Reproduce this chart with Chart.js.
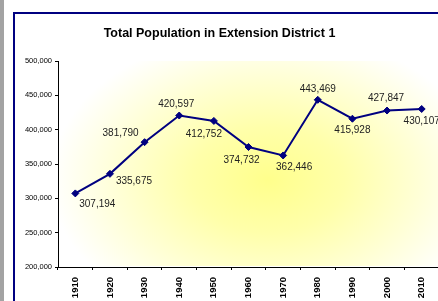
<!DOCTYPE html>
<html>
<head>
<meta charset="utf-8">
<script src="https://cdn.jsdelivr.net/npm/chart.js@4/dist/chart.umd.min.js"></script>
<style>
  html, body { margin: 0; padding: 0; width: 438px; height: 301px; overflow: hidden; background: #fff; }
  .strip { position: absolute; left: 0; top: 0; width: 4px; height: 301px; background: #a3a3a3; }
  .frame { position: absolute; left: 13px; top: 12px; width: 500px; height: 400px;
           border-left: 2px solid #000080; border-top: 2px solid #000080; background: #fff; }
  #wrap { position: absolute; left: 0; top: 0; width: 462px; height: 301px; }
</style>
</head>
<body>
<div class="strip"></div>
<div class="frame"></div>
<div id="wrap"><canvas id="chart" width="462" height="301"></canvas></div>
<script>
const years = ['1910', '1920', '1930', '1940', '1950', '1960', '1970', '1980', '1990', '2000', '2010'];
const population = [307194, 335675, 381790, 420597, 412752, 374732, 362446, 443469, 415928, 427847, 430107];
const yTicks = [200000, 250000, 300000, 350000, 400000, 450000, 500000];
const chartTitle = 'Total Population in Extension District 1';

// where each value label sits relative to its point (dx, dy in px)
const labelOffsets = [[22, 11], [24, 7], [-24, -9], [-3, -11], [-10, 13], [-7, 13],
                      [11, 12], [0, -11], [0, 12], [-1, -12], [0, 12]];

const FONT = 'Arial, "Liberation Sans", sans-serif';
const NAVY = '#000080';

const fmt = (v) => v.toLocaleString('en-US');

// soft yellow glow behind the plot (stretched sideways)
const plotGlow = {
    id: 'plotGlow',
    beforeDatasetsDraw(chart) {
        const ctx = chart.ctx;
        const a = chart.chartArea;
        ctx.save();
        ctx.beginPath();
        ctx.rect(a.left + 1, a.top, a.right - a.left, a.bottom - a.top - 1);
        ctx.clip();
        const cx = 268, cy = 180, sx = 1.45;
        ctx.translate(cx, cy);
        ctx.scale(sx, 1);
        let g = ctx.createRadialGradient(0, 0, 0, 0, 0, 150);
        g.addColorStop(0, 'rgba(255,255,140,1)');
        g.addColorStop(0.35, 'rgba(255,255,170,1)');
        g.addColorStop(0.7, 'rgba(255,255,215,1)');
        g.addColorStop(1, 'rgba(255,255,255,1)');
        ctx.fillStyle = g;
        ctx.fillRect(-400, -300, 800, 600);
        ctx.restore();
    }
};

// value labels next to the points
const valueLabels = {
    id: 'valueLabels',
    afterDatasetsDraw(chart) {
        const ctx = chart.ctx;
        const meta = chart.getDatasetMeta(0);
        ctx.save();
        ctx.font = '10px ' + FONT;
        ctx.fillStyle = '#222';
        ctx.textAlign = 'center';
        ctx.textBaseline = 'middle';
        meta.data.forEach((pt, i) => {
            const off = labelOffsets[i];
            ctx.fillText(fmt(population[i]), pt.x + off[0], pt.y + off[1]);
        });
        ctx.restore();
    }
};

const config = {
    type: 'line',
    data: {
        labels: years,
        datasets: [{
            data: population,
            borderColor: NAVY,
            backgroundColor: NAVY,
            borderWidth: 2,
            pointStyle: 'rectRot',
            pointRadius: 3.5,
            pointBorderWidth: 1,
            tension: 0,
            clip: false
        }]
    },
    options: {
        responsive: false,
        animation: false,
        devicePixelRatio: 1,
        layout: { padding: { left: 0, right: 23, top: 0, bottom: 0 } },
        plugins: {
            legend: { display: false },
            tooltip: { enabled: false },
            title: {
                display: true,
                text: chartTitle,
                color: '#000',
                font: { family: FONT, size: 12.5, weight: 'bold' },
                padding: { top: 26, bottom: 20 }
            }
        },
        scales: {
            x: {
                offset: true,
                grid: { display: true, drawOnChartArea: false, offset: true, tickLength: 3, color: '#000' },
                border: { display: true, color: '#000', width: 1 },
                ticks: {
                    minRotation: 90, maxRotation: 90, padding: 7,
                    color: '#000',
                    font: { family: FONT, size: 9.5, weight: 'bold' }
                },
                afterFit: (scale) => { scale.height = 34; }
            },
            y: {
                min: 200000,
                max: 500000,
                afterBuildTicks: (scale) => { scale.ticks = yTicks.map(v => ({ value: v })); },
                grid: { display: true, drawOnChartArea: false, tickLength: 3, color: '#000' },
                border: { display: true, color: '#000', width: 1 },
                ticks: {
                    padding: 3,
                    color: '#000',
                    font: { family: FONT, size: 7.5 },
                    callback: (v) => fmt(v)
                },
                afterFit: (scale) => { scale.width = 58; }
            }
        }
    },
    plugins: [plotGlow, valueLabels]
};

let chart = new Chart(document.getElementById('chart').getContext('2d'), config);
</script>
</body>
</html>
